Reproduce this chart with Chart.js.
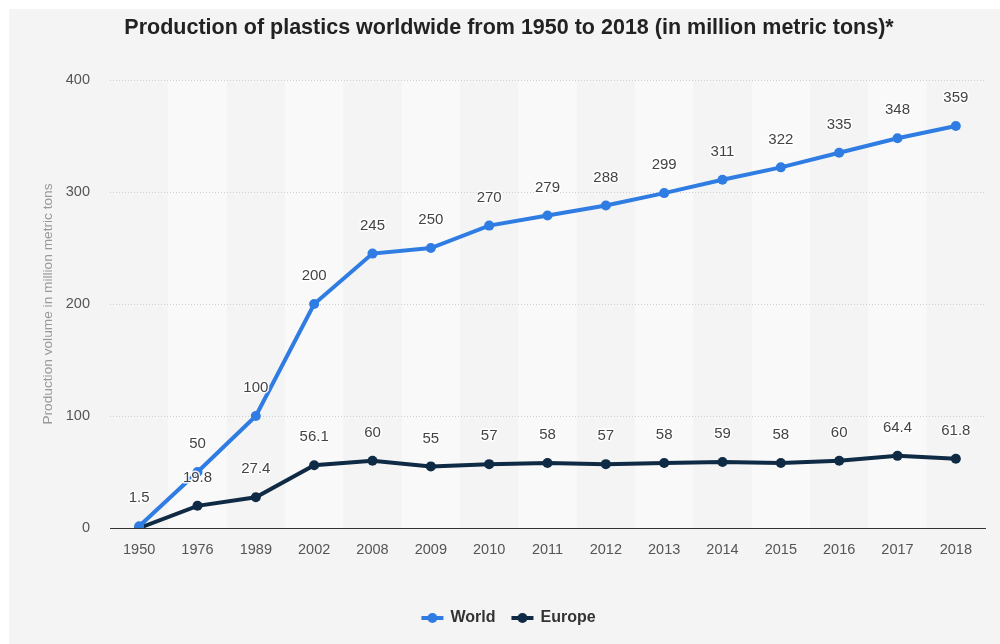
<!DOCTYPE html>
<html>
<head>
<meta charset="utf-8">
<script src="https://cdn.jsdelivr.net/npm/chart.js@4/dist/chart.umd.min.js"></script>
<style>
html,body{margin:0;padding:0;background:#fff;}
#wrap{width:1000px;height:644px;position:relative;}
</style>
</head>
<body>
<div id="wrap"><canvas id="c" width="1000" height="644"></canvas></div>
<script>
const categories = ["1950","1976","1989","2002","2008","2009","2010","2011","2012","2013","2014","2015","2016","2017","2018"];
const worldValues = [1.5,50,100,200,245,250,270,279,288,299,311,322,335,348,359];
const europeValues = [0,19.8,27.4,56.1,60,55,57,58,57,58,59,58,60,64.4,61.8];
const worldLabels = ["1.5","50","100","200","245","250","270","279","288","299","311","322","335","348","359"];
const europeLabels = ["","19.8","27.4","56.1","60","55","57","58","57","58","59","58","60","64.4","61.8"];
const yTicks = [0,100,200,300,400];
const seriesNames = ["World","Europe"];
const titleText = "Production of plastics worldwide from 1950 to 2018 (in million metric tons)*";

const BLUE = "#2f7ce3";
const NAVY = "#0f2a44";
const FONT = "'Liberation Sans', Arial, Helvetica, sans-serif";

const bgPlugin = {
  id:'bg',
  beforeDraw(chart){
    const ctx = chart.ctx, a = chart.chartArea, x = chart.scales.x, y = chart.scales.y;
    ctx.save();
    ctx.fillStyle = '#ffffff';
    ctx.fillRect(0,0,chart.width,chart.height);
    ctx.fillStyle = '#f4f4f4';
    ctx.fillRect(9,9,chart.width-9,chart.height-9);
    const n = categories.length;
    const w = (a.right - a.left)/n;
    ctx.fillStyle = '#f9f9f9';
    for(let i=0;i<n;i++){
      if(i%2===1){
        const cx = x.getPixelForValue(i);
        ctx.fillRect(cx - w/2, a.top, w, a.bottom - a.top);
      }
    }
    ctx.strokeStyle = '#cfcfcf';
    ctx.lineWidth = 1;
    ctx.setLineDash([1,2]);
    yTicks.forEach(v => {
      if(v === 0) return;
      const py = Math.round(y.getPixelForValue(v)) + 0.5;
      ctx.beginPath(); ctx.moveTo(a.left, py); ctx.lineTo(a.right, py); ctx.stroke();
    });
    ctx.restore();
  }
};

const labelPlugin = {
  id:'vlabels',
  afterDatasetsDraw(chart){
    const ctx = chart.ctx;
    ctx.save();
    ctx.font = "15px " + FONT;
    ctx.textAlign = 'center';
    ctx.textBaseline = 'middle';
    ctx.lineJoin = 'round';
    const sets = [worldLabels, europeLabels];
    chart.data.datasets.forEach((ds, di) => {
      const meta = chart.getDatasetMeta(di);
      meta.data.forEach((pt, i) => {
        const t = sets[di][i];
        if(!t) return;
        const y = pt.y - 28;
        ctx.strokeStyle = 'rgba(255,255,255,0.9)';
        ctx.lineWidth = 3;
        ctx.strokeText(t, pt.x, y);
        ctx.fillStyle = '#444';
        ctx.fillText(t, pt.x, y);
      });
    });
    ctx.restore();
  }
};

const titleLegendPlugin = {
  id:'titleLegend',
  afterDraw(chart){
    const ctx = chart.ctx;
    ctx.save();
    ctx.font = "bold 21.5px " + FONT;
    ctx.fillStyle = '#222';
    ctx.textAlign = 'center';
    ctx.textBaseline = 'middle';
    ctx.fillText(titleText, 509, 28);
    ctx.font = "bold 16px " + FONT;
    ctx.textAlign = 'left';
    const colors = chart.data.datasets.map(d => d.borderColor);
    const iconW = 22, gap = 7, itemGap = 16;
    const widths = seriesNames.map(s => ctx.measureText(s).width);
    let total = 0;
    widths.forEach((w,i) => { total += iconW + gap + w + (i < widths.length-1 ? itemGap : 0); });
    let x = 508.5 - total/2;
    const cy = 618;
    seriesNames.forEach((s,i) => {
      ctx.strokeStyle = colors[i]; ctx.fillStyle = colors[i]; ctx.lineWidth = 4;
      ctx.beginPath(); ctx.moveTo(x, cy); ctx.lineTo(x + iconW, cy); ctx.stroke();
      ctx.beginPath(); ctx.arc(x + iconW/2, cy, 5, 0, Math.PI*2); ctx.fill();
      x += iconW + gap;
      ctx.fillStyle = '#333';
      ctx.fillText(s, x, cy);
      x += widths[i] + itemGap;
    });
    ctx.restore();
  }
};

new Chart(document.getElementById('c'), {
  type:'line',
  data:{
    labels: categories,
    datasets:[
      {label:seriesNames[0], data: worldValues, borderColor: BLUE, backgroundColor: BLUE,
       borderWidth:4, pointRadius:5, pointHoverRadius:5, pointBackgroundColor: BLUE, pointBorderWidth:0, tension:0, pointStyle:'circle'},
      {label:seriesNames[1], data: europeValues, borderColor: NAVY, backgroundColor: NAVY,
       borderWidth:4, pointRadius:5, pointHoverRadius:5, pointBackgroundColor: NAVY, pointBorderWidth:0, tension:0, pointStyle:'circle'}
    ]
  },
  options:{
    responsive:false,
    animation:false,
    events:[],
    layout:{padding:{left:9,right:15,top:80,bottom:46}},
    scales:{
      x:{
        type:'category',
        offset:true,
        grid:{display:false, drawTicks:false},
        border:{display:true, color:'#333', width:1},
        ticks:{color:'#555', font:{family:FONT, size:14.5}, padding:13, maxRotation:0},
        afterFit(s){ s.height = 70; }
      },
      y:{
        min:0, max:400,
        afterBuildTicks(s){ s.ticks = yTicks.map(v=>({value:v})); },
        grid:{display:false, drawTicks:false},
        border:{display:false},
        ticks:{color:'#555', font:{family:FONT, size:14.5}, padding:20},
        title:{display:true, text:'Production volume in million metric tons', color:'#999',
               font:{family:FONT, size:13.7}, padding:{top:31, bottom:0}},
        afterFit(s){ s.width = 101; }
      }
    },
    plugins:{
      title:{display:false},
      legend:{display:false},
      tooltip:{enabled:false}
    }
  },
  plugins:[bgPlugin, labelPlugin, titleLegendPlugin]
});
</script>
</body>
</html>
